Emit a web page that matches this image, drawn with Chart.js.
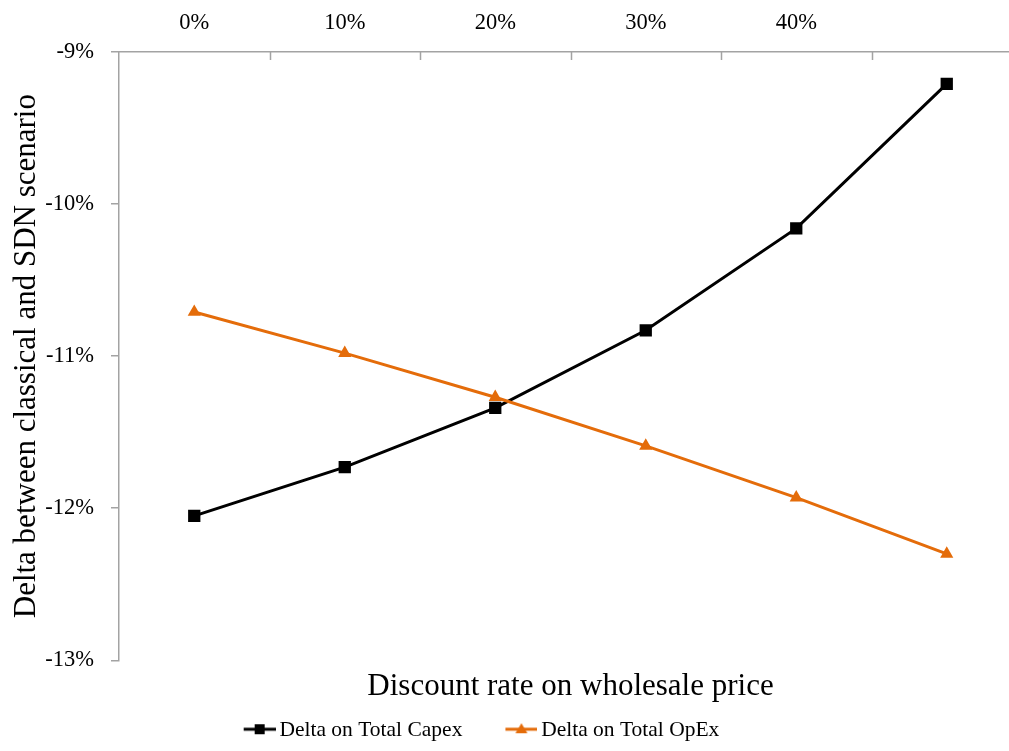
<!DOCTYPE html>
<html>
<head>
<meta charset="utf-8">
<script src="https://cdn.jsdelivr.net/npm/chart.js@4/dist/chart.umd.min.js"></script>
<style>
  html, body { margin: 0; padding: 0; background: #fff; overflow: hidden; width: 1009px; height: 751px; }
  #wrap { position: absolute; left: -92px; top: 0; width: 1114px; height: 751px; }
</style>
</head>
<body>
<div id="wrap"><canvas id="chart" width="1114" height="751"></canvas></div>
<script>
// Discount rate categories (the last one carries no label)
const categories = ['0%', '10%', '20%', '30%', '40%', ''];
// Delta between classical and SDN scenario, in percent
const capexDelta = [-12.05, -11.73, -11.34, -10.83, -10.16, -9.21];
const opexDelta  = [-10.71, -10.98, -11.27, -11.59, -11.93, -12.30];
const seriesNames = ['Delta on Total Capex', 'Delta on Total OpEx'];
const yMin = -13, yMax = -9, yStep = 1;

const AXIS = '#a3a3a3';
const BLACK = '#000000';
const ORANGE = '#E46C0A';
const SERIF = '"Liberation Serif", "Times New Roman", Times, serif';

Chart.defaults.font.family = SERIF;
Chart.defaults.color = BLACK;

// Legend swatch: a short line with the series marker, drawn at the right end of the image
const LEGEND_BOX = 58;
const LEGEND_FONT = 21.5;
function legendIcon(color, marker) {
  const w = Math.round(LEGEND_BOX + LEGEND_FONT - 8);
  const c = document.createElement('canvas');
  c.width = w; c.height = 16;
  const g = c.getContext('2d');
  const cy = 7, x0 = w - 32, cx = w - 16;
  g.strokeStyle = color; g.lineWidth = 3;
  g.beginPath(); g.moveTo(x0, cy); g.lineTo(w, cy); g.stroke();
  g.fillStyle = color;
  if (marker === 'rect') {
    g.fillRect(cx - 5, cy - 5, 10, 10);
  } else {
    g.beginPath(); g.moveTo(cx, cy - 6); g.lineTo(cx + 6, cy + 4); g.lineTo(cx - 6, cy + 4); g.closePath(); g.fill();
  }
  return c;
}
const legendIcons = [legendIcon(BLACK, 'rect'), legendIcon(ORANGE, 'triangle')];

// Short tick marks pointing into the plot between the categories of the top axis
const innerCategoryTicks = {
  id: 'innerCategoryTicks',
  beforeDatasetsDraw(chart) {
    const xs = chart.scales.x;
    const ctx = chart.ctx;
    const half = (xs.getPixelForValue(1) - xs.getPixelForValue(0)) / 2;
    ctx.save();
    ctx.strokeStyle = AXIS;
    ctx.lineWidth = 1.5;
    for (let i = 1; i <= categories.length; i++) {
      const px = Math.round(xs.getPixelForValue(i - 1) + half) + 0.5;
      ctx.beginPath();
      ctx.moveTo(px, xs.bottom);
      ctx.lineTo(px, xs.bottom + 8);
      ctx.stroke();
    }
    ctx.restore();
  }
};

new Chart(document.getElementById('chart'), {
  type: 'line',
  data: {
    labels: categories,
    datasets: [
      {
        label: seriesNames[0],
        data: capexDelta,
        borderColor: BLACK,
        backgroundColor: BLACK,
        borderWidth: 3,
        tension: 0,
        pointStyle: 'rect',
        pointRadius: 8.7,
        pointBorderWidth: 0,
        pointBackgroundColor: BLACK,
        order: 1
      },
      {
        label: seriesNames[1],
        data: opexDelta,
        borderColor: ORANGE,
        backgroundColor: ORANGE,
        borderWidth: 3,
        tension: 0,
        pointStyle: 'triangle',
        pointRadius: 7.6,
        pointBorderWidth: 0,
        pointBackgroundColor: ORANGE,
        order: 0
      }
    ]
  },
  options: {
    responsive: false,
    animation: false,
    devicePixelRatio: 1,
    events: [],
    layout: { autoPadding: false, padding: { left: 0, right: 0, top: 0, bottom: 0 } },
    scales: {
      x: {
        type: 'category',
        position: 'top',
        offset: true,
        grid: { display: false, drawTicks: false },
        border: { display: true, color: AXIS, width: 1.5 },
        ticks: { color: BLACK, font: { size: 22.5 }, padding: 15, maxRotation: 0, autoSkip: false },
        afterFit(scale) {
          scale.height = 52;
          scale.paddingLeft = 0;
          scale.paddingRight = 0;
        }
      },
      y: {
        position: 'left',
        min: yMin,
        max: yMax,
        ticks: {
          stepSize: yStep,
          color: BLACK,
          font: { size: 22.5 },
          padding: 17,
          callback: (v) => v + '%'
        },
        grid: { drawOnChartArea: false, drawTicks: true, tickLength: 8, color: AXIS, lineWidth: 1.5 },
        border: { display: true, color: AXIS, width: 1.5 },
        title: {
          display: true,
          text: 'Delta between classical and SDN scenario',
          color: BLACK,
          font: { size: 31, lineHeight: 1.2 },
          padding: { top: 100, bottom: 0 }
        },
        afterFit(scale) { scale.width = 211; }
      }
    },
    plugins: {
      title: {
        display: true,
        position: 'bottom',
        fullSize: false,
        weight: 500,
        text: 'Discount rate on wholesale price',
        color: BLACK,
        font: { size: 31, weight: 'normal', lineHeight: 1.2 },
        padding: { top: 8, bottom: 4 }
      },
      legend: {
        position: 'bottom',
        labels: {
          usePointStyle: true,
          pointStyleWidth: LEGEND_BOX,
          padding: 10,
          color: BLACK,
          font: { size: LEGEND_FONT },
          generateLabels(chart) {
            return chart.data.datasets.map((ds, i) => ({
              text: ds.label,
              pointStyle: legendIcons[i],
              fillStyle: ds.borderColor,
              strokeStyle: ds.borderColor,
              lineWidth: 0,
              fontColor: BLACK,
              hidden: !chart.isDatasetVisible(i),
              datasetIndex: i
            }));
          }
        }
      },
      tooltip: { enabled: false }
    }
  },
  plugins: [innerCategoryTicks]
});
</script>
</body>
</html>
